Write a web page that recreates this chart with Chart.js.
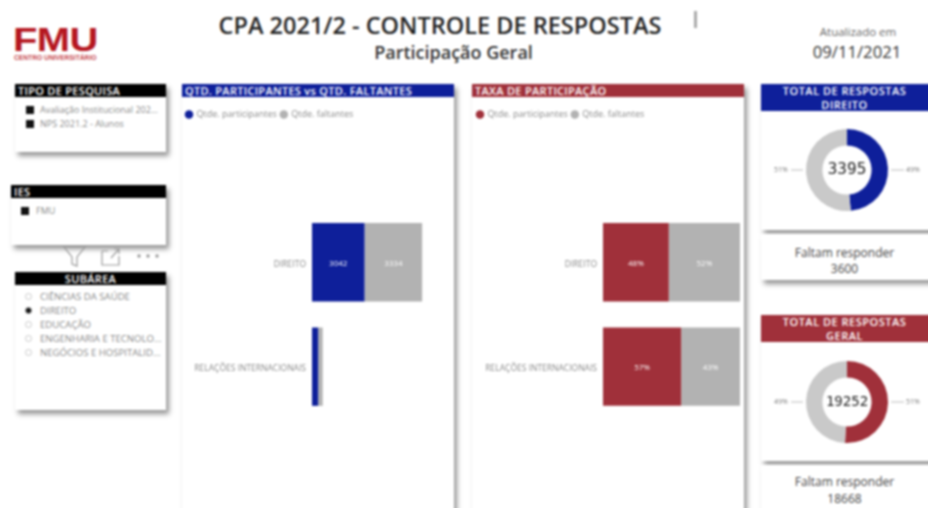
<!DOCTYPE html>
<html><head><meta charset="utf-8">
<script src="https://cdn.jsdelivr.net/npm/chart.js@4"></script>
<style>
html,body{margin:0;padding:0;background:#fff;overflow:hidden;width:928px;height:508px;}
#page{position:relative;width:960px;height:540px;overflow:hidden;background:#fff;font-family:"Open Sans",sans-serif;filter:blur(.8px);}
.abs{position:absolute;}
.panel{position:absolute;background:#fff;box-shadow:3px 4px 5px rgba(0,0,0,.42);}
.hdr{position:absolute;left:0;right:0;top:0;color:#fff;font-size:11px;font-weight:600;letter-spacing:.3px;line-height:14px;height:13px;white-space:nowrap;overflow:hidden;}
.black{background:#000;}
.blue{background:#0e1f9a;}
.red{background:#a0303a;}
.item{position:absolute;font-size:9px;color:#8a8a8a;white-space:nowrap;line-height:10px;}
.sub{font-size:9.6px;}
.sq{position:absolute;width:8px;height:8px;background:#111;}
.rd{position:absolute;width:7px;height:7px;border:1px solid #c8c8c8;border-radius:50%;box-sizing:border-box;}
canvas{position:absolute;}
.tot{position:absolute;color:#fff;font-size:11px;font-weight:600;letter-spacing:.5px;line-height:14px;text-align:center;overflow:hidden;padding-right:12px;}
.note{position:absolute;text-align:center;color:#444;font-size:12px;}
</style></head><body>
<div id="page">
<div class="abs" style="left:13px;top:23px;font:900 33px/33px 'Liberation Sans',sans-serif;color:#b5161f;letter-spacing:-.5px;transform:scaleX(1.21);transform-origin:left">FMU</div>
<div class="abs" style="left:14px;top:54px;font:bold 6.7px/7px 'Liberation Sans',sans-serif;color:#c5464d;">CENTRO UNIVERSITÁRIO</div>
<div class="abs" style="left:140px;width:600px;top:9px;text-align:center;font:600 23.5px/32px 'Open Sans',sans-serif;color:#222;">CPA 2021/2 - CONTROLE DE RESPOSTAS</div>
<div class="abs" style="left:200px;width:507px;top:40px;text-align:center;font:600 18px/24px 'Open Sans',sans-serif;color:#333;">Participação Geral</div>
<div class="abs" style="left:694px;top:11px;width:3px;height:17px;background:#aaa"></div>
<div class="abs" style="left:799px;width:118px;top:25px;text-align:center;font:11.5px/14px 'Open Sans',sans-serif;color:#666;">Atualizado em</div>
<div class="abs" style="left:799px;width:116px;top:41px;text-align:center;font:16.7px/22px 'Open Sans',sans-serif;color:#333;">09/11/2021</div>

<div class="panel" style="left:15px;top:84px;width:151px;height:68px;"><div class="hdr black" style="padding-left:3px">TIPO DE PESQUISA</div>
<div class="sq" style="left:11px;top:22px"></div><div class="item" style="left:25px;top:21px">Avaliação Institucional 202...</div>
<div class="sq" style="left:11px;top:36px"></div><div class="item" style="left:25px;top:35px">NPS 2021.2 - Alunos</div></div>

<div class="panel" style="left:11px;top:185px;width:155px;height:60px;"><div class="hdr black" style="padding-left:3px">IES</div>
<div class="sq" style="left:10px;top:22px"></div><div class="item" style="left:25px;top:21px">FMU</div></div>

<svg class="abs" style="left:62px;top:246px" width="100" height="22" fill="none" stroke="#999" stroke-width="1.2"><path d="M2 1H23L15 11V20L10 18V11Z"/><path d="M40 5V19H57V10M40 5H46M49 12L57 3M52 3H57V8"/><circle cx="77" cy="10" r="1.1" fill="#888"/><circle cx="86" cy="10" r="1.1" fill="#888"/><circle cx="95" cy="10" r="1.1" fill="#888"/></svg>

<div class="panel" style="left:15px;top:272px;width:151px;height:138px;"><div class="hdr black" style="text-align:center">SUBÁREA</div>
<div class="rd" style="left:10px;top:21px"></div><div class="item sub" style="left:25px;top:20px">CIÊNCIAS DA SAÚDE</div>
<div class="rd" style="left:10px;top:35px;background:#111;border-color:#999"></div><div class="item sub" style="left:25px;top:34px">DIREITO</div>
<div class="rd" style="left:10px;top:49px"></div><div class="item sub" style="left:25px;top:48px">EDUCAÇÃO</div>
<div class="rd" style="left:10px;top:63px"></div><div class="item sub" style="left:25px;top:62px">ENGENHARIA E TECNOLO...</div>
<div class="rd" style="left:10px;top:77px"></div><div class="item sub" style="left:25px;top:76px">NEGÓCIOS E HOSPITALID...</div></div>

<div class="panel" style="left:182px;top:84px;width:272px;height:445px;"><div class="hdr blue" style="padding-left:3px">QTD. PARTICIPANTES vs QTD. FALTANTES</div></div>
<div class="panel" style="left:472px;top:84px;width:272px;height:445px;"><div class="hdr red" style="padding-left:3px">TAXA DE PARTICIPAÇÃO</div></div>
<canvas id="c1" style="left:182px;top:106px" width="272" height="324"></canvas>
<canvas id="c2" style="left:473px;top:106px" width="271" height="324"></canvas>

<div class="panel" style="left:761px;top:84px;width:179px;height:146px;"></div>
<div class="tot blue" style="left:761px;top:84px;width:167px;height:27px">TOTAL DE RESPOSTAS<br>DIREITO</div>
<canvas id="c3" style="left:761px;top:111px" width="167" height="118"></canvas>
<div class="panel" style="left:761px;top:234px;width:179px;height:46px;"></div>
<div class="note" style="left:761px;top:245px;width:167px;line-height:16px">Faltam responder<br><span id="f1"></span></div>

<div class="panel" style="left:761px;top:315px;width:179px;height:146px;"></div>
<div class="tot red" style="left:761px;top:315px;width:167px;height:27px">TOTAL DE RESPOSTAS<br>GERAL</div>
<canvas id="c4" style="left:761px;top:343px" width="167" height="118"></canvas>
<div class="panel" style="left:761px;top:465px;width:179px;height:64px;"></div>
<div class="note" style="left:761px;top:473px;width:167px;line-height:17px">Faltam responder<br><span id="f2"></span></div>
</div>
<script>
const categories = ["DIREITO", "RELAÇÕES INTERNACIONAIS"];
const seriesNames = ["Qtde. participantes", "Qtde. faltantes"];
const participantes = [3042, 353];
const faltantes = [3334, 266];
const taxaParticipantes = [48, 57];
const taxaFaltantes = [52, 43];
const direitoRespostas = [3395, 3600];
const direitoPct = ["49%", "51%"];
const geralRespostas = [19252, 18668];
const geralPct = ["51%", "49%"];
const BLUE = "#0e1f9a", RED = "#a0303a", GREY = "#b2b2b2", LGREY = "#c9c9c9";

document.getElementById("f1").textContent = direitoRespostas[1];
document.getElementById("f2").textContent = geralRespostas[1];

const barLabels = {
  id: "barLabels",
  afterDatasetsDraw(chart, args, opts) {
    const ctx = chart.ctx;
    ctx.save();
    ctx.font = "8px 'Open Sans'";
    ctx.fillStyle = "#fff";
    ctx.textAlign = "center";
    ctx.textBaseline = "middle";
    chart.data.datasets.forEach((ds, i) => {
      chart.getDatasetMeta(i).data.forEach((bar, j) => {
        if (Math.abs(bar.x - bar.base) < 25) return;
        ctx.fillText(ds.data[j] + (opts.suffix || ""), (bar.x + bar.base) / 2, bar.y + 1);
      });
    });
    ctx.restore();
  }
};

const legendSpace = {
  id: "legendSpace",
  beforeInit(chart) {
    const fit = chart.legend.fit;
    chart.legend.fit = function () { fit.call(this); this.height = 104; };
  }
};

function barChart(id, a, b, color, max, suffix) {
  return new Chart(document.getElementById(id), {
    type: "bar",
    data: { labels: categories, datasets: [
      { label: seriesNames[0], data: a, backgroundColor: color },
      { label: seriesNames[1], data: b, backgroundColor: GREY }
    ]},
    plugins: [barLabels, legendSpace],
    options: {
      indexAxis: "y", responsive: false, animation: false,
      layout: { padding: { top: 0, right: 4, bottom: 0, left: 0 } },
      categoryPercentage: 1, barPercentage: 0.75,
      scales: {
        x: { stacked: true, display: false, min: 0, max },
        y: { stacked: true, grid: { display: false, drawTicks: false }, border: { display: false },
             afterFit(s) { s.width = 130; },
             ticks: { color: "#8a8a8a", font: { size: 8.5, family: "'Open Sans'" }, padding: 6, labelOffset: 2 } }
      },
      plugins: {
        tooltip: { enabled: false },
        barLabels: { suffix },
        legend: { position: "top", align: "start",
          labels: { usePointStyle: true, pointStyle: "circle", boxWidth: 6, boxHeight: 6, padding: 4,
                    color: "#8a8a8a", font: { size: 9, family: "'Open Sans'" } } }
      }
    }
  });
}

function donut(id, values, pct, color, centerSize) {
  const guide = {
    id: "guide",
    afterDatasetsDraw(chart) {
      const ctx = chart.ctx;
      const arc = chart.getDatasetMeta(0).data[0];
      const cx = arc.x, cy = arc.y, r = arc.outerRadius;
      ctx.save();
      ctx.fillStyle = "#222";
      ctx.textAlign = "center"; ctx.textBaseline = "middle";
      ctx.font = centerSize + "px 'DejaVu Sans Mono','Open Sans'";
      ctx.fillText(values[0], cx, cy);
      ctx.strokeStyle = "#bbb"; ctx.lineWidth = 1;
      ctx.font = "7px 'Open Sans'"; ctx.fillStyle = "#777";
      ctx.beginPath(); ctx.moveTo(cx + r + 3, cy); ctx.lineTo(cx + r + 16, cy);
      ctx.moveTo(cx - r - 3, cy); ctx.lineTo(cx - r - 15, cy); ctx.stroke();
      ctx.fillText(pct[0], cx + r + 25, cy);
      ctx.fillText(pct[1], cx - r - 25, cy);
      ctx.restore();
    }
  };
  return new Chart(document.getElementById(id), {
    type: "doughnut",
    data: { labels: seriesNames, datasets: [{ data: values, backgroundColor: [color, LGREY], borderWidth: 0 }] },
    plugins: [guide],
    options: { responsive: false, animation: false, cutout: "60%",
      layout: { padding: { top: 18, bottom: 18, left: 5 } },
      plugins: { legend: { display: false }, tooltip: { enabled: false } } }
  });
}

barChart("c1", participantes, faltantes, BLUE, 7990, "");
barChart("c2", taxaParticipantes, taxaFaltantes, RED, 100, "%");
donut("c3", direitoRespostas, direitoPct, BLUE, 16);
donut("c4", geralRespostas, geralPct, RED, 14);
</script>
</body></html>
